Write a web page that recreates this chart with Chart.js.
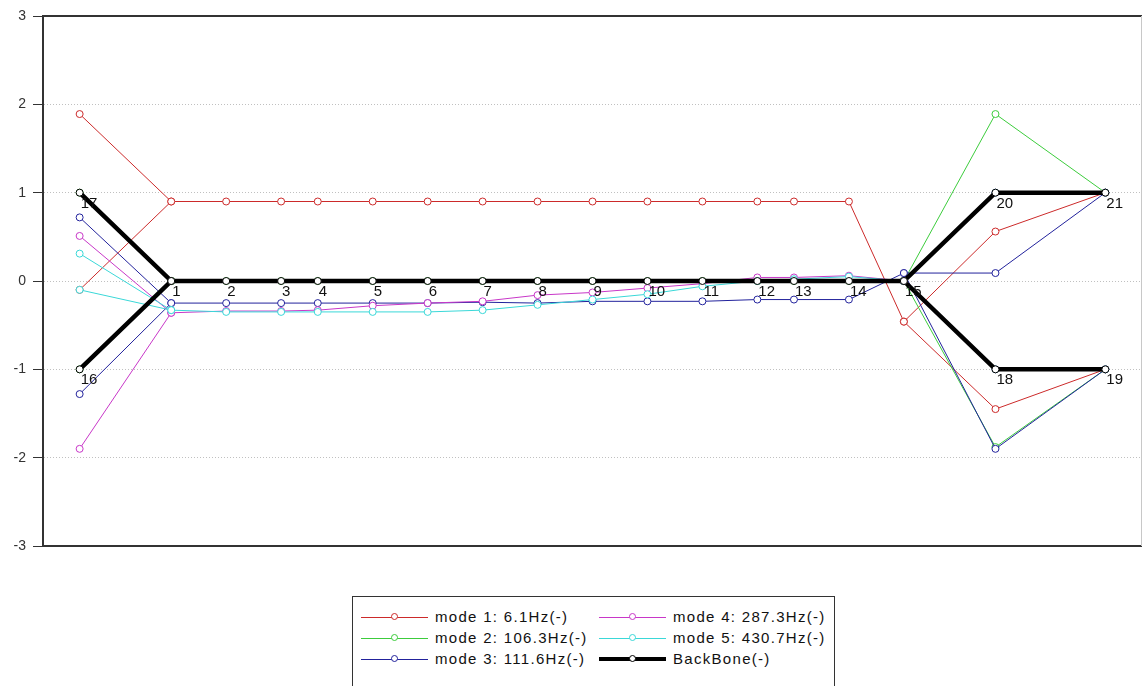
<!DOCTYPE html>
<html>
<head>
<meta charset="utf-8">
<script src="https://cdn.jsdelivr.net/npm/chart.js@4.4.1/dist/chart.umd.min.js"></script>
<style>
  html, body { margin: 0; padding: 0; background: #fff; overflow: hidden; }
  #wrap { position: relative; width: 1143px; height: 686px; overflow: hidden; }
  #plot { position: absolute; left: 0; top: 0; }
  #legend {
    position: absolute; left: 352px; top: 596px; width: 483px; height: 96px;
    border: 1px solid #333; box-sizing: border-box; background: #fff;
    font: 15px "Liberation Sans", Arial, sans-serif; color: #111; letter-spacing: 1.3px;
  }
  .item { position: absolute; height: 20px; }
  .item .ln { position: absolute; top: 10px; height: 0; }
  .item .dot {
    position: absolute; top: 6px; width: 7px; height: 7px; border-radius: 50%;
    background: #fff; box-sizing: border-box;
  }
  .item .tx { position: absolute; top: 0; line-height: 20px; white-space: nowrap; }
</style>
</head>
<body>
<div id="wrap">
  <canvas id="plot" width="1143" height="686"></canvas>
  <div id="legend"></div>
</div>
<script>
// Node numbers and their positions along the structure (nodes 1..21)
const nodeNames = ['1','2','3','4','5','6','7','8','9','10','11','12','13','14','15','16','17','18','19','20','21'];
const nodeX     = [5, 8, 11, 13, 16, 19, 22, 25, 28, 31, 34, 37, 39, 42, 45, 0, 0, 50, 56, 50, 56];

// Undeformed geometry
const backBone = [0,0,0,0,0,0,0,0,0,0,0,0,0,0,0, -1, 1, -1, -1, 1, 1];

// Mode shapes (deformed positions per node)
const mode1 = [0.9,0.9,0.9,0.9,0.9,0.9,0.9,0.9,0.9,0.9,0.9,0.9,0.9,0.9, -0.46, -0.1, 1.89, -1.45, -1.0, 0.56, 1.0];
const mode2 = [0,0,0,0,0,0,0,0,0,0,0,0,0,0, 0.0, -1.0, 1.0, -1.88, -1.0, 1.89, 1.0];
const mode3 = [-0.25,-0.25,-0.25,-0.25,-0.25,-0.25,-0.24,-0.25,-0.23,-0.23,-0.23,-0.21,-0.21,-0.21, 0.09, -1.28, 0.72, -1.9, -1.0, 0.09, 1.0];
const mode4 = [-0.36,-0.34,-0.34,-0.33,-0.28,-0.25,-0.23,-0.16,-0.13,-0.08,-0.03,0.04,0.04,0.06, 0.0, -1.9, 0.51, -1.0, -1.0, 1.0, 1.0];
const mode5 = [-0.33,-0.35,-0.35,-0.35,-0.35,-0.35,-0.33,-0.27,-0.21,-0.15,-0.06,0.0,0.02,0.05, 0.0, -0.1, 0.31, -1.0, -1.0, 1.0, 1.0];

// Connectivity drawn as polylines; 0 breaks the line
const edgePath = [17, 1, 16, 0, 1, 2, 3, 4, 5, 6, 7, 8, 9, 10, 11, 12, 13, 14, 15, 20, 21, 0, 15, 18, 19];

const seriesNames  = ['mode 1: 6.1Hz(-)', 'mode 2: 106.3Hz(-)', 'mode 3: 111.6Hz(-)', 'mode 4: 287.3Hz(-)', 'mode 5: 430.7Hz(-)', 'BackBone(-)'];
const seriesValues = [mode1, mode2, mode3, mode4, mode5, backBone];
const seriesColors = ['#cc2a2a', '#3ccc3c', '#22229c', '#c837c8', '#3ad8d8', '#000000'];
const seriesWidths = [1, 1, 1, 1, 1, 4.5];

const yTicks = { min: -3, max: 3, step: 1 };

function pathData(values) {
  return edgePath.map(n => n === 0 ? { x: null, y: null } : { x: nodeX[n - 1], y: values[n - 1] });
}

const datasets = seriesNames.map((name, i) => ({
  label: name,
  data: pathData(seriesValues[i]),
  showLine: true,
  spanGaps: false,
  borderColor: seriesColors[i],
  borderWidth: seriesWidths[i],
  pointRadius: 3.5,
  pointHoverRadius: 3.5,
  pointBackgroundColor: '#ffffff',
  pointBorderColor: seriesColors[i],
  pointBorderWidth: 1,
  tension: 0,
  order: seriesNames.length - 1 - i
}));

// Frame: top border, bottom axis, faint right edge
const framePlugin = {
  id: 'frame',
  afterDraw(chart) {
    const { ctx, chartArea: a } = chart;
    ctx.save();
    ctx.strokeStyle = '#333';
    ctx.lineWidth = 2;
    ctx.beginPath();
    ctx.moveTo(a.left, a.top); ctx.lineTo(a.right, a.top);
    ctx.moveTo(a.left, a.bottom); ctx.lineTo(a.right, a.bottom);
    ctx.stroke();
    ctx.strokeStyle = '#c8c8c8';
    ctx.lineWidth = 1;
    ctx.beginPath();
    ctx.moveTo(a.right - 0.5, a.top); ctx.lineTo(a.right - 0.5, a.bottom);
    ctx.stroke();
    ctx.restore();
  }
};

// Node numbers next to the undeformed geometry
const nodeLabelPlugin = {
  id: 'nodeLabels',
  afterDatasetsDraw(chart) {
    const { ctx, scales: { x, y } } = chart;
    ctx.save();
    ctx.font = '15px "Liberation Sans", Arial, sans-serif';
    ctx.fillStyle = '#111';
    ctx.textAlign = 'left';
    ctx.textBaseline = 'middle';
    nodeNames.forEach((name, i) => {
      const px = x.getPixelForValue(nodeX[i]);
      const py = y.getPixelForValue(backBone[i]);
      ctx.fillText(name, px + 1, py + 11);
    });
    ctx.restore();
  }
};

new Chart(document.getElementById('plot'), {
  type: 'scatter',
  data: { datasets },
  options: {
    responsive: false,
    animation: false,
    events: [],
    layout: { autoPadding: false, padding: { top: 16, right: 1, bottom: 140, left: 0 } },
    plugins: { legend: { display: false }, tooltip: { enabled: false } },
    scales: {
      x: { type: 'linear', min: -2, max: 58, display: false },
      y: {
        type: 'linear',
        min: yTicks.min, max: yTicks.max,
        ticks: {
          stepSize: yTicks.step, color: '#333', padding: 7, crossAlign: 'near',
          font: { family: '"Liberation Sans", Arial, sans-serif', size: 14 }
        },
        grid: { color: '#c0c0c0', lineWidth: 1, tickLength: 10, tickColor: '#333', tickWidth: 1 },
        border: { display: true, color: '#333', width: 2, dash: [1, 2] },
        afterFit(scale) { scale.width = 43; }
      }
    }
  },
  plugins: [framePlugin, nodeLabelPlugin]
});

// Legend box: two columns, three rows
const legend = document.getElementById('legend');
const colLeft = [8, 246];
const rowTop = [20, 41, 62];
datasets.forEach((ds, i) => {
  const col = Math.floor(i / 3), row = i % 3;
  const item = document.createElement('div');
  item.className = 'item';
  item.style.left = colLeft[col] + 'px';
  item.style.top = (rowTop[row] - 10) + 'px';
  const w = ds.borderWidth;
  item.innerHTML =
    '<div class="ln" style="left:0;width:67px;border-top:' + w + 'px solid ' + ds.borderColor + ';margin-top:' + (-w / 2) + 'px"></div>' +
    '<div class="dot" style="left:30px;border:1px solid ' + ds.borderColor + '"></div>' +
    '<div class="tx" style="left:74px">' + ds.label + '</div>';
  legend.appendChild(item);
});
</script>
</body>
</html>
